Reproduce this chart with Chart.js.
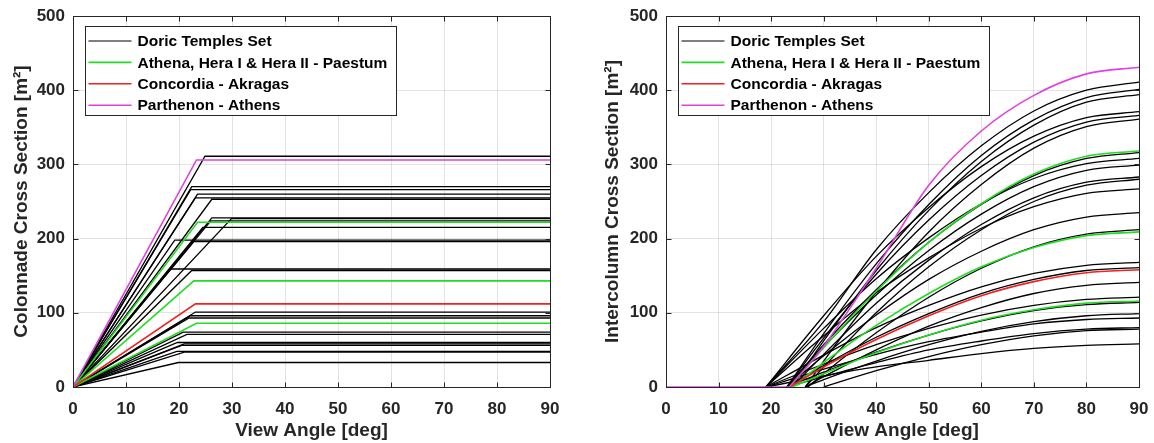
<!DOCTYPE html>
<html>
<head>
<meta charset="utf-8">
<script src="https://cdn.jsdelivr.net/npm/chart.js@4.4.0/dist/chart.umd.min.js"></script>
<style>
html, body { margin: 0; padding: 0; background: #fff; }
#wrap { position: relative; width: 1154px; height: 443px; }
.box { position: absolute; top: 0; width: 577px; height: 443px; }
</style>
</head>
<body>
<div id="wrap">
  <div class="box" style="left:0"><canvas id="left" width="577" height="443"></canvas></div>
  <div class="box" style="left:577px"><canvas id="right" width="577" height="443"></canvas></div>
</div>
<script>
// legend
let legendNames = ['Doric Temples Set', 'Athena, Hera I & Hera II - Paestum', 'Concordia - Akragas', 'Parthenon - Athens'];
let legendColors = ['#000000', '#22dd22', '#ee2222', '#e040e0'];

// left panel: colonnade, line rises from 0 to the knee angle then stays flat
let colBlackKnee = [24.9, 22.4, 22.2, 23.5, 23.1, 26.2, 26.2, 29.9, 26.0, 24.5, 19.2, 22.8, 18.3, 22.4, 23.1, 22.2, 21.9, 20.8, 21.5, 19.7, 21.0, 20.5, 19.6, 21.0, 19.9];
let colBlackTop  = [311, 270, 266, 260, 255, 253, 228, 227, 224, 215, 198, 196, 159, 157, 101, 96, 93, 74, 71, 60, 58, 56, 48, 47, 33];
let colGreenKnee = [23.5, 22.8, 23.3];
let colGreenTop  = [222, 143, 86];
let colRedKnee = [23.1];
let colRedTop  = [112];
let colMagKnee = [23.3];
let colMagTop  = [306];

// right panel: intercolumn, zero until onset angle, then values at these angles
let intAngles = [30, 40, 50, 60, 70, 80, 90];
let intBlackOnset = [19, 23, 24, 19, 23, 26.5, 23, 19, 23, 24, 26.5, 19, 23, 27, 19, 23, 26.5, 19, 23, 26.5, 19, 23, 30, 19];
let intBlackValues = [
    [88, 185, 262, 325, 372, 400, 411],
    [72, 166, 246, 312, 360, 390, 401],
    [62, 157, 238, 304, 353, 384, 394],
    [96, 176, 242, 297, 338, 363, 371],
    [66, 152, 225, 285, 330, 357, 366],
    [35, 128, 209, 273, 322, 351, 361],
    [57, 131, 195, 246, 285, 308, 316],
    [79, 146, 201, 247, 281, 301, 308],
    [54, 124, 184, 233, 270, 292, 299],
    [44, 113, 171, 219, 255, 276, 283],
    [27, 100, 162, 212, 250, 272, 280],
    [69, 127, 174, 214, 243, 261, 267],
    [42, 97, 145, 183, 212, 229, 235],
    [18, 73, 121, 160, 189, 206, 212],
    [43, 80, 110, 135, 153, 164, 168],
    [29, 67, 99, 126, 145, 157, 161],
    [14, 50, 82, 107, 126, 137, 141],
    [31, 57, 79, 97, 110, 118, 121],
    [20, 47, 70, 89, 103, 111, 114],
    [10, 35, 57, 75, 88, 96, 99],
    [24, 44, 61, 74, 85, 91, 93],
    [14, 33, 50, 62, 72, 78, 80],
    [0, 22, 41, 57, 69, 76, 78],
    [15, 27, 36, 45, 52, 56, 58]
];
let intGreenOnset = [23.5, 24, 24];
let intGreenValues = [
    [53, 129, 195, 247, 287, 311, 318],
    [33, 83, 126, 162, 188, 204, 209],
    [18, 46, 70, 90, 104, 113, 116]
];
let intRedOnset = [23.5];
let intRedValues = [[27, 64, 96, 123, 142, 154, 158]];
let intMagOnset = [23.5];
let intMagValues = [[55, 160, 272, 345, 393, 422, 431]];

let xTicks = [0, 10, 20, 30, 40, 50, 60, 70, 80, 90];
let yTicks = [0, 100, 200, 300, 400, 500];

Chart.defaults.font.family = "'Liberation Sans', Arial, sans-serif";
Chart.defaults.font.weight = 'bold';
Chart.defaults.color = '#262626';

function colLines(knees, tops, color, width) {
    let sets = [];
    for (let i = 0; i < knees.length; i++) {
        sets.push({
            data: [{x: 0, y: 0}, {x: knees[i], y: tops[i]}, {x: 90, y: tops[i]}],
            borderColor: color, borderWidth: width, pointRadius: 0, tension: 0
        });
    }
    return sets;
}

function intLines(onsets, values, color, width) {
    let sets = [];
    for (let i = 0; i < onsets.length; i++) {
        let pts = [{x: onsets[i], y: 0}];
        for (let j = 0; j < intAngles.length; j++) {
            if (intAngles[j] > onsets[i]) pts.push({x: intAngles[j], y: values[i][j]});
        }
        sets.push({
            data: pts, borderColor: color, borderWidth: width, pointRadius: 0,
            cubicInterpolationMode: 'monotone'
        });
    }
    return sets;
}

// black frame, inward ticks and the boxed legend
let framePlugin = {
    id: 'frame',
    afterDatasetsDraw(chart) {
        let ctx = chart.ctx;
        let a = chart.chartArea;
        let xs = chart.scales.x, ys = chart.scales.y;
        let l = Math.round(a.left) + 0.5, r = Math.round(a.right) + 0.5;
        let t = Math.round(a.top) + 0.5, b = Math.round(a.bottom) + 0.5;
        ctx.save();
        ctx.strokeStyle = '#262626';
        ctx.lineWidth = 1;
        ctx.strokeRect(l, t, r - l, b - t);
        ctx.beginPath();
        xTicks.forEach(v => {
            let px = Math.round(xs.getPixelForValue(v)) + 0.5;
            ctx.moveTo(px, b); ctx.lineTo(px, b - 5);
            ctx.moveTo(px, t); ctx.lineTo(px, t + 5);
        });
        yTicks.forEach(v => {
            let py = Math.round(ys.getPixelForValue(v)) + 0.5;
            ctx.moveTo(l, py); ctx.lineTo(l + 5, py);
            ctx.moveTo(r, py); ctx.lineTo(r - 5, py);
        });
        ctx.stroke();

        // legend
        ctx.font = "bold 15.5px 'Liberation Sans', Arial, sans-serif";
        let maxW = 0;
        legendNames.forEach(n => { maxW = Math.max(maxW, ctx.measureText(n).width); });
        let bx = Math.round(a.left + 12) + 0.5, by = Math.round(a.top + 10) + 0.5;
        let bw = Math.round(52 + maxW + 9), bh = 89;
        ctx.fillStyle = '#fff';
        ctx.fillRect(bx, by, bw, bh);
        ctx.strokeStyle = '#262626';
        ctx.strokeRect(bx, by, bw, bh);
        ctx.textBaseline = 'middle';
        for (let i = 0; i < legendNames.length; i++) {
            let ry = by + 14.5 + i * 21.4;
            ctx.strokeStyle = legendColors[i];
            ctx.lineWidth = i === 0 ? 1.2 : 1.6;
            ctx.beginPath();
            ctx.moveTo(bx + 3, ry); ctx.lineTo(bx + 46, ry);
            ctx.stroke();
            ctx.fillStyle = '#000';
            ctx.fillText(legendNames[i], bx + 52, ry + 1);
        }
        ctx.restore();
    }
};

function makeOptions(yTitle, yWidth, titlePad, rightPad) {
    return {
        responsive: false,
        animation: false,
        events: [],
        layout: {padding: {left: 0, top: 16, right: rightPad, bottom: 0}},
        plugins: {legend: {display: false}, tooltip: {enabled: false}},
        scales: {
            x: {
                type: 'linear', min: 0, max: 90,
                afterBuildTicks: s => { s.ticks = xTicks.map(v => ({value: v})); },
                afterFit: s => { s.height = 56; s.paddingLeft = 0; s.paddingRight = 0; },
                grid: {color: 'rgba(0,0,0,0.11)', drawTicks: false},
                border: {display: false},
                ticks: {padding: 12, font: {size: 17, weight: 'bold'}, color: '#262626'},
                title: {display: true, text: 'View Angle [deg]', font: {size: 19, weight: 'bold', lineHeight: 1.0}, color: '#262626', padding: {top: 0, bottom: 2.5}}
            },
            y: {
                type: 'linear', min: 0, max: 500,
                afterBuildTicks: s => { s.ticks = yTicks.map(v => ({value: v})); },
                afterFit: s => { s.width = yWidth; s.paddingTop = 0; s.paddingBottom = 0; },
                grid: {color: 'rgba(0,0,0,0.11)', drawTicks: false},
                border: {display: false},
                ticks: {padding: 8, font: {size: 17, weight: 'bold'}, color: '#262626'},
                title: {display: true, text: yTitle, font: {size: 19, weight: 'bold', lineHeight: 1.2}, color: '#262626', padding: {top: titlePad, bottom: 0}}
            }
        }
    };
}

// dataset 0 is drawn on top, so coloured sets go first
let leftSets = [].concat(
    colLines(colMagKnee, colMagTop, legendColors[3], 1.6),
    colLines(colRedKnee, colRedTop, legendColors[2], 1.6),
    colLines(colGreenKnee, colGreenTop, legendColors[1], 1.6),
    colLines(colBlackKnee, colBlackTop, legendColors[0], 1.3)
);

let magBase = [{
    data: [{x: 0, y: 0}, {x: intMagOnset[0], y: 0}],
    borderColor: legendColors[3], borderWidth: 1.6, pointRadius: 0, tension: 0
}];
let rightSets = [].concat(
    magBase,
    intLines(intMagOnset, intMagValues, legendColors[3], 1.6),
    intLines(intRedOnset, intRedValues, legendColors[2], 1.6),
    intLines(intGreenOnset, intGreenValues, legendColors[1], 1.6),
    intLines(intBlackOnset, intBlackValues, legendColors[0], 1.3)
);

new Chart(document.getElementById('left'), {
    type: 'line',
    data: {datasets: leftSets},
    options: makeOptions('Colonnade Cross Section [m\u00B2]', 73, 10, 27),
    plugins: [framePlugin]
});

new Chart(document.getElementById('right'), {
    type: 'line',
    data: {datasets: rightSets},
    options: makeOptions('Intercolumn Cross Section [m\u00B2]', 89, 24, 15),
    plugins: [framePlugin]
});
</script>
</body>
</html>
